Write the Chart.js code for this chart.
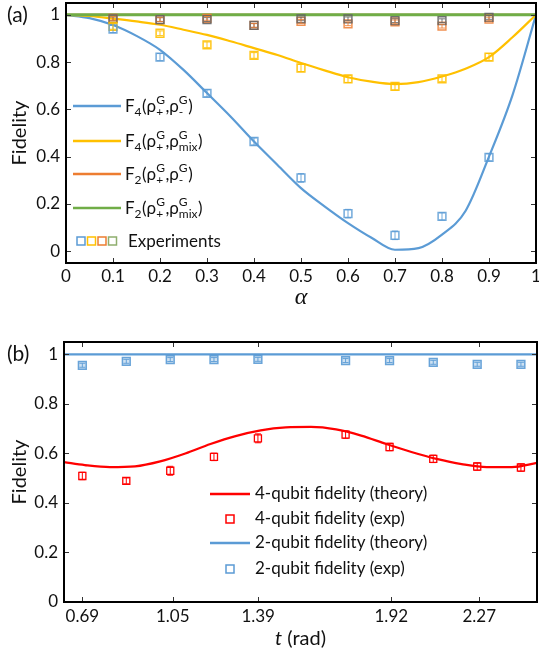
<!DOCTYPE html>
<html lang="en">
<head>
<meta charset="UTF-8">
<title>Fidelity</title>
<script src="https://cdn.jsdelivr.net/npm/chart.js@4.4.0/dist/chart.umd.min.js"></script>
<style>
  body { margin: 0; background: #fff; }
  #wrap { position: relative; width: 539px; height: 651px; }
  canvas { position: absolute; left: 0; }
  #chartA { top: 0; }
  #chartB { top: 325px; }
</style>
</head>
<body>
<div id="wrap">
  <canvas id="chartA" width="539" height="325"></canvas>
  <canvas id="chartB" width="539" height="326"></canvas>
</div>
<script>
// ---------- panel (a) ----------
const alphaTheory = [0, 0.05, 0.1, 0.15, 0.2, 0.25, 0.3, 0.35, 0.4, 0.45, 0.5, 0.55, 0.6, 0.65, 0.7, 0.75, 0.8, 0.85, 0.9, 0.95, 1];
const f4Minus = [1, 0.986, 0.957, 0.911, 0.852, 0.767, 0.669, 0.57, 0.464, 0.365, 0.267, 0.19, 0.119, 0.057, 0.006, 0.013, 0.07, 0.17, 0.40, 0.66, 1];
const f4Mix = [1, 0.995, 0.984, 0.972, 0.958, 0.937, 0.915, 0.888, 0.859, 0.83, 0.796, 0.765, 0.736, 0.717, 0.707, 0.715, 0.739, 0.772, 0.821, 0.905, 1];
const alphaEnds = [0, 1];
const f2Minus = [1, 1];
const f2Mix = [1, 1];

const alphaExp = [0.1, 0.2, 0.3, 0.4, 0.5, 0.6, 0.7, 0.8, 0.9];
const expF4Minus = [0.94, 0.821, 0.668, 0.464, 0.31, 0.159, 0.067, 0.147, 0.397];
const errF4Minus = [0.015, 0.015, 0.015, 0.015, 0.018, 0.018, 0.018, 0.015, 0.015];
const expF4Mix = [0.951, 0.922, 0.873, 0.828, 0.775, 0.729, 0.697, 0.729, 0.821];
const errF4Mix = [0.012, 0.01, 0.012, 0.012, 0.015, 0.015, 0.015, 0.012, 0.015];
const expF2Minus = [0.985, 0.98, 0.985, 0.955, 0.972, 0.962, 0.97, 0.952, 0.982];
const errF2Minus = [0.008, 0.008, 0.008, 0.008, 0.008, 0.008, 0.008, 0.008, 0.008];
const expF2Mix = [0.983, 0.98, 0.98, 0.955, 0.983, 0.983, 0.975, 0.975, 0.989];
const errF2Mix = [0.008, 0.008, 0.008, 0.008, 0.008, 0.008, 0.008, 0.008, 0.008];

const xTicksA = [0, 0.1, 0.2, 0.3, 0.4, 0.5, 0.6, 0.7, 0.8, 0.9, 1];
const yTicksA = [0, 0.2, 0.4, 0.6, 0.8, 1];

// ---------- panel (b) ----------
const tTheory = [0.617, 0.7, 0.8, 0.9, 1.0, 1.1, 1.2, 1.3, 1.4, 1.5, 1.6, 1.7, 1.8, 1.9, 2.0, 2.1, 2.2, 2.3, 2.4, 2.5];
const fid4Theory = [0.565, 0.553, 0.545, 0.548, 0.568, 0.6, 0.638, 0.67, 0.693, 0.705, 0.707, 0.697, 0.672, 0.638, 0.606, 0.578, 0.557, 0.545, 0.545, 0.562];
const tEnds = [0.617, 2.5];
const fid2Theory = [1, 1];

const tExp = [0.69, 0.865, 1.04, 1.214, 1.389, 1.738, 1.913, 2.087, 2.262, 2.436];
const fid4Exp = [0.509, 0.489, 0.53, 0.586, 0.661, 0.676, 0.626, 0.578, 0.547, 0.543];
const err4Exp = [0.015, 0.012, 0.018, 0.015, 0.018, 0.015, 0.015, 0.015, 0.015, 0.015];
const fid2Exp = [0.956, 0.972, 0.979, 0.979, 0.98, 0.975, 0.975, 0.968, 0.96, 0.96];
const err2Exp = [0.008, 0.008, 0.008, 0.008, 0.008, 0.008, 0.008, 0.008, 0.008, 0.008];

const xTicksB = [0.69, 1.05, 1.39, 1.92, 2.27];
const yTicksB = [0, 0.2, 0.4, 0.6, 0.8, 1];

const BLUE = '#5B9BD5', YELLOW = '#FFC000', ORANGE = '#ED7D31', GREEN = '#70AD47', RED = '#FF0000';

function pts(xs, ys) { return xs.map((x, i) => ({ x: x, y: ys[i] })); }

Chart.defaults.font.family = 'Lato';
Chart.defaults.font.size = 17;
Chart.defaults.color = '#111';

// frame box, inward ticks on all four sides, x tick labels
const framePlugin = {
  id: 'frame',
  afterDatasetsDraw(chart, args, opts) {
    const { ctx, chartArea: a } = chart;
    const x = chart.scales.x, y = chart.scales.y;
    ctx.save();
    ctx.strokeStyle = '#333';
    ctx.lineWidth = 1;
    ctx.beginPath();
    x.ticks.forEach(tk => {
      const px = Math.round(x.getPixelForValue(tk.value)) + 0.5;
      ctx.moveTo(px, a.top); ctx.lineTo(px, a.top + 5);
      ctx.moveTo(px, a.bottom); ctx.lineTo(px, a.bottom - 5);
    });
    y.ticks.forEach(tk => {
      const py = Math.round(y.getPixelForValue(tk.value)) + 0.5;
      ctx.moveTo(a.left, py); ctx.lineTo(a.left + 5, py);
      ctx.moveTo(a.right, py); ctx.lineTo(a.right - 5, py);
    });
    ctx.stroke();
    ctx.strokeStyle = '#000';
    ctx.lineWidth = 2;
    ctx.strokeRect(a.left, a.top, a.right - a.left, a.bottom - a.top);

    ctx.fillStyle = '#111';
    ctx.font = '17px Lato';
    ctx.textAlign = 'center';
    ctx.textBaseline = 'middle';
    x.ticks.forEach(tk => {
      const txt = opts.fixed ? tk.value.toFixed(opts.fixed) : String(tk.value);
      ctx.fillText(txt, x.getPixelForValue(tk.value), a.bottom + opts.pad + 10);
    });
    ctx.restore();
  }
};

// vertical error bars for datasets that carry an "errors" array
const errorBarPlugin = {
  id: 'errorBars',
  afterDatasetsDraw(chart) {
    const { ctx } = chart;
    const ys = chart.scales.y;
    chart.data.datasets.forEach((ds, i) => {
      if (!ds.errors) return;
      const meta = chart.getDatasetMeta(i);
      ctx.save();
      ctx.strokeStyle = ds.borderColor;
      ctx.lineWidth = 1;
      ctx.beginPath();
      meta.data.forEach((pt, j) => {
        const v = ds.data[j].y, e = ds.errors[j];
        const y0 = ys.getPixelForValue(v - e), y1 = ys.getPixelForValue(v + e);
        ctx.moveTo(pt.x, y0); ctx.lineTo(pt.x, y1);
        ctx.moveTo(pt.x - 3, y0); ctx.lineTo(pt.x + 3, y0);
        ctx.moveTo(pt.x - 3, y1); ctx.lineTo(pt.x + 3, y1);
      });
      ctx.stroke();
      ctx.restore();
    });
  }
};

// text with stacked super/subscripts
function drawRich(ctx, x, y, parts) {
  parts.forEach(p => {
    if (typeof p === 'string') {
      ctx.font = '17px Lato';
      ctx.fillText(p, x, y);
      x += ctx.measureText(p).width;
    } else {
      ctx.font = '12px Lato';
      let w = 0;
      if (p.sup) { ctx.fillText(p.sup, x, y - 8); w = ctx.measureText(p.sup).width; }
      if (p.sub) { ctx.fillText(p.sub, x, y + 4); w = Math.max(w, ctx.measureText(p.sub).width); }
      x += w + 0.5;
    }
  });
}

function drawSquare(ctx, cx, cy, color, fill) {
  ctx.save();
  if (fill) { ctx.fillStyle = fill; ctx.fillRect(cx - 4, cy - 4, 8, 8); }
  ctx.strokeStyle = color;
  ctx.lineWidth = 1.5;
  ctx.strokeRect(cx - 4, cy - 4, 8, 8);
  ctx.restore();
}

const legendAPlugin = {
  id: 'legendA',
  afterDraw(chart) {
    const ctx = chart.ctx;
    const rows = [
      { color: BLUE, y: 106, parts: ['F', { sub: '4' }, '(ρ', { sup: 'G', sub: '+' }, ',ρ', { sup: 'G', sub: '-' }, ')'] },
      { color: YELLOW, y: 141, parts: ['F', { sub: '4' }, '(ρ', { sup: 'G', sub: '+' }, ',ρ', { sup: 'G', sub: 'mix' }, ')'] },
      { color: ORANGE, y: 174, parts: ['F', { sub: '2' }, '(ρ', { sup: 'G', sub: '+' }, ',ρ', { sup: 'G', sub: '-' }, ')'] },
      { color: GREEN, y: 208, parts: ['F', { sub: '2' }, '(ρ', { sup: 'G', sub: '+' }, ',ρ', { sup: 'G', sub: 'mix' }, ')'] }
    ];
    ctx.save();
    ctx.textBaseline = 'alphabetic';
    ctx.fillStyle = '#111';
    rows.forEach(r => {
      ctx.strokeStyle = r.color;
      ctx.lineWidth = 2.5;
      ctx.beginPath(); ctx.moveTo(73, r.y); ctx.lineTo(121, r.y); ctx.stroke();
      drawRich(ctx, 125, r.y + 6, r.parts);
    });
    [[81, BLUE], [91.5, YELLOW], [102, ORANGE], [112.5, '#8FAE6E']].forEach(s => drawSquare(ctx, s[0], 241, s[1]));
    ctx.font = '17px Lato';
    ctx.fillText('Experiments', 128, 247);
    // panel label and x title
    ctx.font = '21px Lato';
    ctx.fillText('(a)', 7, 22);
    ctx.font = 'italic 24px "Liberation Serif"';
    ctx.textAlign = 'center';
    ctx.fillText('α', (chart.chartArea.left + chart.chartArea.right) / 2, 304);
    ctx.restore();
  }
};

const legendBPlugin = {
  id: 'legendB',
  afterDraw(chart) {
    const ctx = chart.ctx;
    const rows = [
      { y: 169, text: '4-qubit fidelity (theory)', line: RED },
      { y: 194, text: '4-qubit fidelity (exp)', mark: RED },
      { y: 218, text: '2-qubit fidelity (theory)', line: BLUE },
      { y: 244, text: '2-qubit fidelity (exp)', mark: BLUE }
    ];
    ctx.save();
    ctx.fillStyle = '#111';
    ctx.font = '17px Lato';
    ctx.textBaseline = 'middle';
    rows.forEach(r => {
      if (r.line) {
        ctx.strokeStyle = r.line; ctx.lineWidth = 2.5;
        ctx.beginPath(); ctx.moveTo(210, r.y); ctx.lineTo(250, r.y); ctx.stroke();
      } else {
        drawSquare(ctx, 230, r.y, r.mark);
      }
      ctx.fillText(r.text, 255, r.y);
    });
    ctx.textBaseline = 'alphabetic';
    ctx.font = '21px Lato';
    ctx.fillText('(b)', 7, 36);
    // x title: italic t + (rad)
    const cx = (chart.chartArea.left + chart.chartArea.right) / 2;
    ctx.font = 'italic 20px Lato';
    const w1 = ctx.measureText('t').width;
    ctx.font = '20px Lato';
    const w2 = ctx.measureText(' (rad)').width;
    const x0 = cx - (w1 + w2) / 2;
    ctx.font = 'italic 20px Lato';
    ctx.fillText('t', x0, 320);
    ctx.font = '20px Lato';
    ctx.fillText(' (rad)', x0 + w1, 320);
    ctx.restore();
  }
};

function ticksFrom(arr) { return s => { s.ticks = arr.map(v => ({ value: v })); }; }

// ---------- chart (a) ----------
new Chart(document.getElementById('chartA'), {
  type: 'scatter',
  data: {
    datasets: [
      { data: pts(alphaExp, expF4Minus), errors: errF4Minus, borderColor: 'rgba(91,155,213,0.85)', backgroundColor: 'rgba(0,0,0,0)', pointStyle: 'rect', pointRadius: 5.5, borderWidth: 1.5, order: 1 },
      { data: pts(alphaExp, expF4Mix), errors: errF4Mix, borderColor: 'rgba(255,192,0,0.9)', backgroundColor: 'rgba(0,0,0,0)', pointStyle: 'rect', pointRadius: 5.5, borderWidth: 1.5, order: 2 },
      { data: pts(alphaExp, expF2Mix), errors: errF2Mix, borderColor: 'rgba(100,100,100,0.9)', backgroundColor: 'rgba(0,0,0,0)', pointStyle: 'rect', pointRadius: 5.5, borderWidth: 1.5, order: 3 },
      { data: pts(alphaExp, expF2Minus), errors: errF2Minus, borderColor: 'rgba(237,125,49,0.85)', backgroundColor: 'rgba(0,0,0,0)', pointStyle: 'rect', pointRadius: 5.5, borderWidth: 1.5, order: 4 },
      { data: pts(alphaEnds, f2Mix), showLine: true, borderColor: GREEN, borderWidth: 3, pointRadius: 0, order: 5 },
      { data: pts(alphaEnds, f2Minus), showLine: true, borderColor: ORANGE, borderWidth: 2, pointRadius: 0, order: 6 },
      { data: pts(alphaTheory, f4Mix), showLine: true, borderColor: YELLOW, borderWidth: 2.2, pointRadius: 0, cubicInterpolationMode: 'monotone', order: 7 },
      { data: pts(alphaTheory, f4Minus), showLine: true, borderColor: BLUE, borderWidth: 2.2, pointRadius: 0, cubicInterpolationMode: 'monotone', order: 8 }
    ]
  },
  options: {
    responsive: false,
    animation: false,
    devicePixelRatio: 1,
    layout: { autoPadding: false, padding: { top: 3, right: 3, left: 0, bottom: 0 } },
    plugins: { legend: { display: false }, tooltip: { enabled: false }, frame: { pad: 4, fixed: 0 } },
    scales: {
      x: {
        type: 'linear', min: 0, max: 1,
        afterBuildTicks: ticksFrom(xTicksA),
        afterFit: s => { s.height = 62; s.paddingLeft = 0; s.paddingRight = 0; },
        grid: { display: false, drawTicks: false }, border: { display: false },
        ticks: { display: false }
      },
      y: {
        type: 'linear', min: -0.05, max: 1.05,
        afterBuildTicks: ticksFrom(yTicksA),
        afterFit: s => { s.width = 66; s.paddingTop = 0; s.paddingBottom = 0; },
        grid: { display: false, drawTicks: false }, border: { display: false },
        ticks: { padding: 6, autoSkip: false, callback: v => String(v) },
        title: { display: true, text: 'Fidelity', font: { size: 20 }, padding: { top: 8, bottom: 0 } }
      }
    }
  },
  plugins: [errorBarPlugin, framePlugin, legendAPlugin]
});

// ---------- chart (b) ----------
new Chart(document.getElementById('chartB'), {
  type: 'scatter',
  data: {
    datasets: [
      { data: pts(tExp, fid2Exp), errors: err2Exp, borderColor: 'rgba(91,155,213,0.9)', backgroundColor: 'rgba(91,155,213,0.3)', pointStyle: 'rect', pointRadius: 5.5, borderWidth: 1.5, order: 1 },
      { data: pts(tExp, fid4Exp), errors: err4Exp, borderColor: RED, backgroundColor: 'rgba(0,0,0,0)', pointStyle: 'rect', pointRadius: 5, borderWidth: 1.3, order: 2 },
      { data: pts(tEnds, fid2Theory), showLine: true, borderColor: BLUE, borderWidth: 2.2, pointRadius: 0, order: 3 },
      { data: pts(tTheory, fid4Theory), showLine: true, borderColor: RED, borderWidth: 2.2, pointRadius: 0, cubicInterpolationMode: 'monotone', order: 4 }
    ]
  },
  options: {
    responsive: false,
    animation: false,
    devicePixelRatio: 1,
    layout: { autoPadding: false, padding: { top: 17, right: 2, left: 0, bottom: 0 } },
    plugins: { legend: { display: false }, tooltip: { enabled: false }, frame: { pad: 5, fixed: 2 } },
    scales: {
      x: {
        type: 'linear', min: 0.617, max: 2.5,
        afterBuildTicks: ticksFrom(xTicksB),
        afterFit: s => { s.height = 49; s.paddingLeft = 0; s.paddingRight = 0; },
        grid: { display: false, drawTicks: false }, border: { display: false },
        ticks: { display: false }
      },
      y: {
        type: 'linear', min: 0, max: 1.05,
        afterBuildTicks: ticksFrom(yTicksB),
        afterFit: s => { s.width = 64; s.paddingTop = 0; s.paddingBottom = 0; },
        grid: { display: false, drawTicks: false }, border: { display: false },
        ticks: { padding: 6, autoSkip: false, callback: v => String(v) },
        title: { display: true, text: 'Fidelity', font: { size: 20 }, padding: { top: 8, bottom: 0 } }
      }
    }
  },
  plugins: [errorBarPlugin, framePlugin, legendBPlugin]
});
</script>
</body>
</html>
